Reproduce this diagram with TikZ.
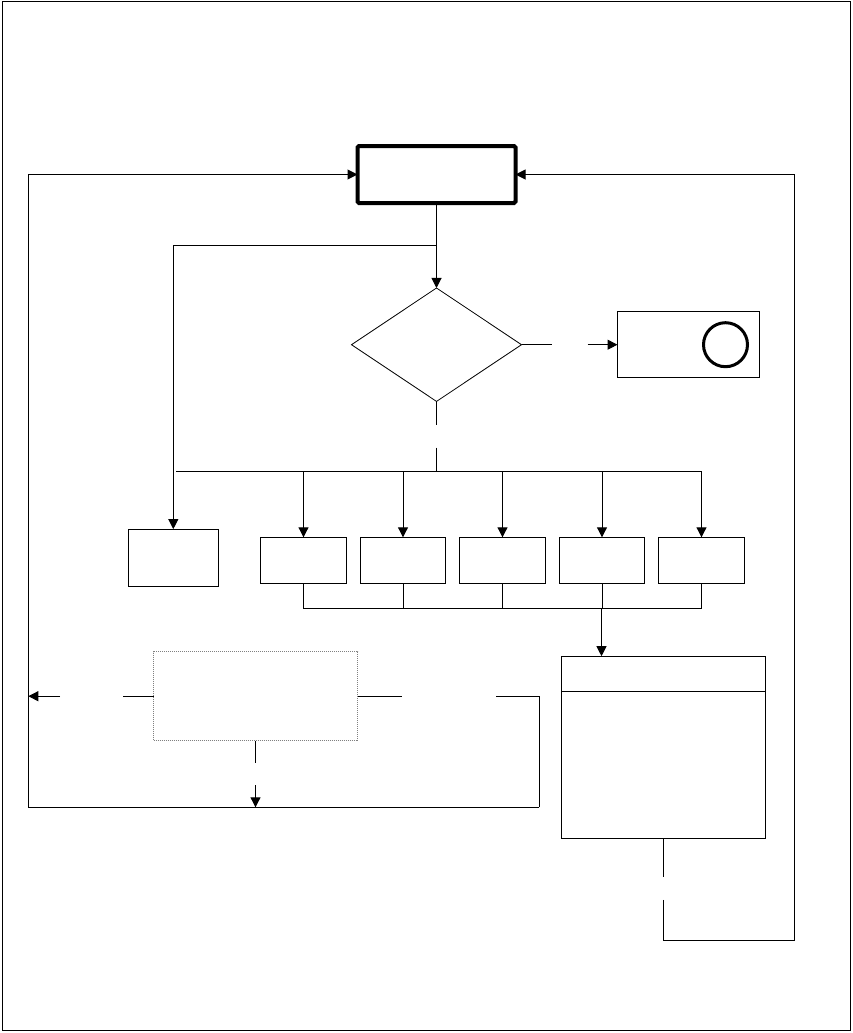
\documentclass[tikz,border=0pt]{standalone}
\usetikzlibrary{positioning,shapes.geometric,arrows.meta}

\begin{document}
\begin{tikzpicture}[x=1pt, y=-1pt, line width=1pt, node distance=14pt,
    >={Triangle[length=10pt,width=10pt]},
    box/.style={draw, rectangle, inner sep=0pt, outer sep=0pt, minimum width=85.5pt, minimum height=46pt},
    mainbox/.style={box, line width=4pt, rounded corners=1.5pt, minimum width=158pt, minimum height=57pt},
    decision/.style={draw, diamond, line width=0.8pt, inner sep=0pt, outer sep=0pt, minimum width=170pt, minimum height=113.4pt},
    ring/.style={draw, circle, line width=3pt, inner sep=0pt, outer sep=0pt, minimum size=44pt},
    aside/.style={box, draw=gray, densely dotted, minimum width=204pt, minimum height=89pt}]
  \useasboundingbox (0,0) rectangle (852,1033);
  \draw (2,2) rectangle (850,1030.5);

  \node[mainbox] (start) at (436.5,174.5) {};
  \node[decision] (test) [below=85pt of start] {};
  \node[box, minimum width=142pt, minimum height=66pt] (stop) [right=96pt of test] {};
  \node[ring] (mark) [left=12pt of stop.east] {};
  \node[box, minimum width=90pt, minimum height=57pt] (alt) at (173.3,557.6) {};
  \node[box] (c1) at (303.5,560.3) {};
  \node[box] (c2) [right=of c1] {};
  \node[box] (c3) [right=of c2] {};
  \node[box] (c4) [right=of c3] {};
  \node[box] (c5) [right=of c4] {};
  \node[box, minimum width=204pt, minimum height=182pt] (hold) at (663.3,747.2) {};
  \node[aside] (side) at (255.5,696.2) {};

  \coordinate (fork) at (436.5,245);
  \coordinate (bus) at (436.5,471.7);
  \coordinate (join) at (601.5,608.3);
  \coordinate (back) at (794.5,940);
  \coordinate (sw) at (28.3,807.3);
  \coordinate (se) at (539.3,807.3);
  \coordinate (y1) at ([xshift=30pt]test.east);
  \coordinate (y2) at ([xshift=-30pt]stop.west);
  \coordinate (n1) at ([yshift=-24pt]test.south);
  \coordinate (n2) at ([yshift=-46.3pt]test.south);
  \coordinate (m1) at ([yshift=-38.4pt]hold.south);
  \coordinate (m2) at ([yshift=-61.7pt]hold.south);
  \coordinate (w1) at ([xshift=-31pt]side.west);
  \coordinate (w2) at (60,696.2);
  \coordinate (e1) at ([xshift=44.3pt]side.east);
  \coordinate (e2) at (496,696.2);
  \coordinate (s1) at ([yshift=-22pt]side.south);
  \coordinate (s2) at ([yshift=-44.3pt]side.south);

  \path[->]
    (start) edge (test)
    (y2) edge (stop);
  \draw[->] (fork) -| (alt);
  \draw (test.east) -- (y1);
  \draw (test.south) -- (n1);
  \draw (n2) -- (bus);
  \draw ([xshift=3pt]alt.north |- bus) -- (c5.north |- bus);
  \foreach \c in {c1,c2,c3,c4,c5}
    \draw[->] (\c.north |- bus) -- (\c);
  \draw (c1) -- (c1.south |- join) -- (c5.south |- join) -- (c5);
  \foreach \c in {c2,c3,c4}
    \draw (\c) -- (\c.south |- join);
  \draw[->] (join) -- (join |- hold.north);
  \draw ([yshift=-35.3pt]hold.north west) -- ([yshift=-35.3pt]hold.north east);
  \draw (hold) -- (m1);
  \draw[->] (m2) |- (back) |- (start);
  \draw (side) -- (w1);
  \draw[->] (w2) -- (w2 -| sw);
  \draw (side) -- (e1);
  \draw (e2) -| (se);
  \draw (side) -- (s1);
  \draw[->] (s2) -- (s2 |- se);
  \draw[->] (se) -- (sw) |- (start);
\end{tikzpicture}
\end{document}
